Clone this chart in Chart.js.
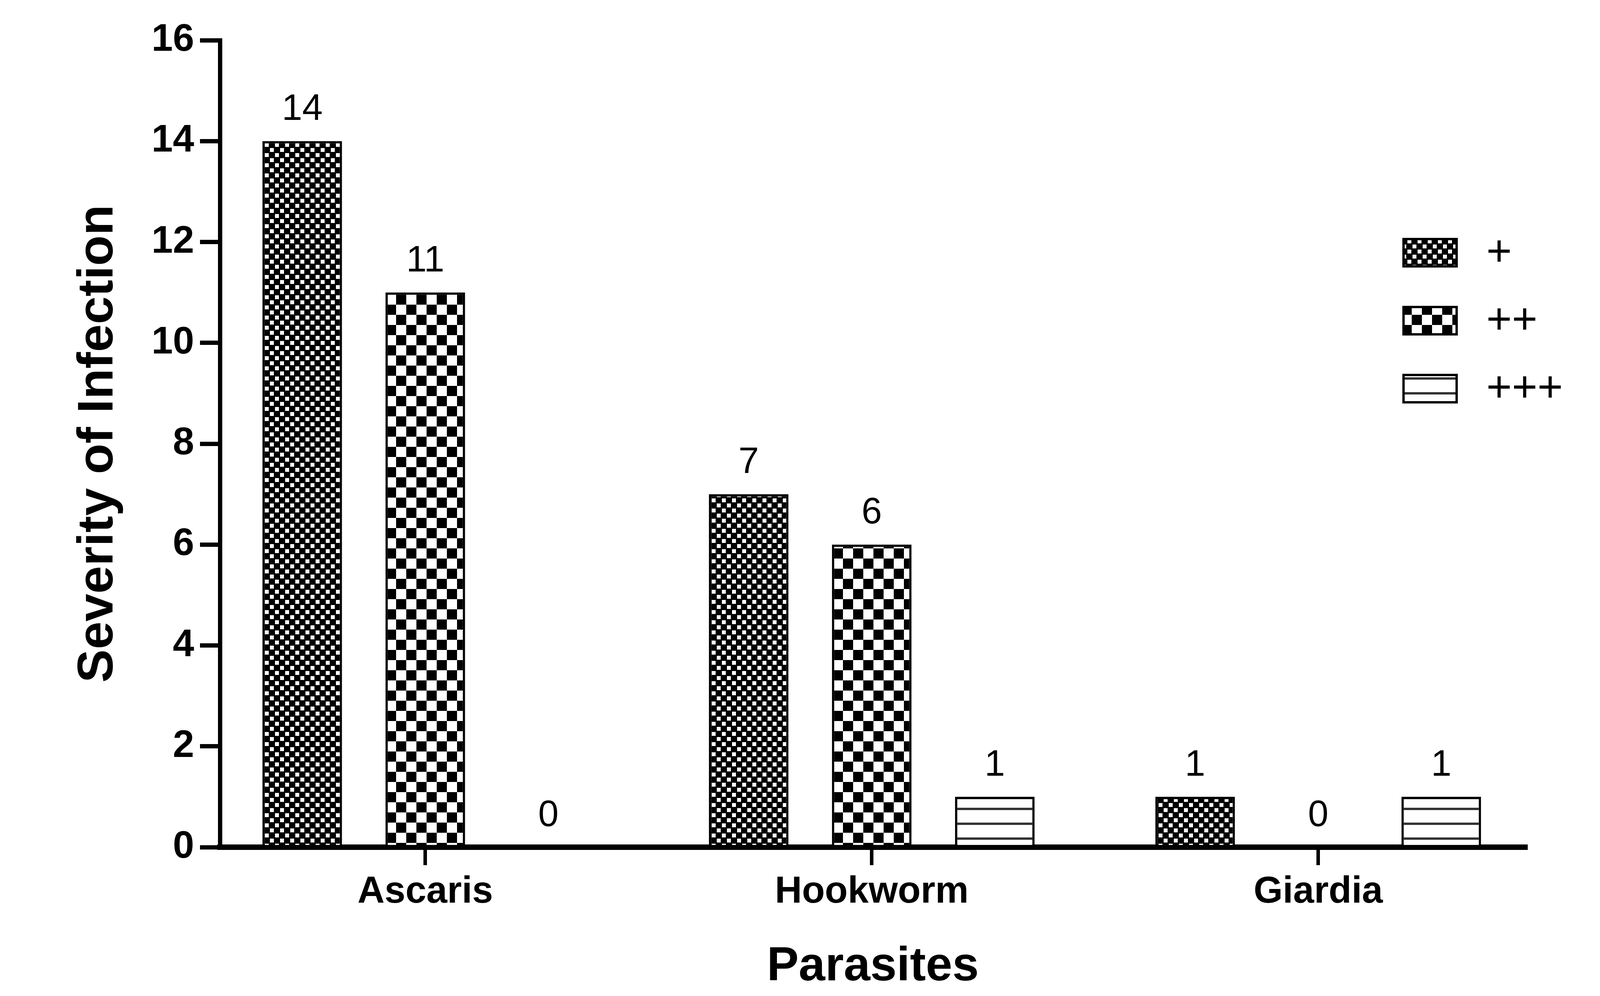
<!DOCTYPE html>
<html>
<head>
<meta charset="utf-8">
<script src="https://cdn.jsdelivr.net/npm/chart.js@4/dist/chart.umd.min.js"></script>
<style>
  html, body { margin: 0; padding: 0; background: #fff; }
  canvas { display: block; }
</style>
</head>
<body>
<canvas id="chart" width="4200" height="2550"></canvas>
<script>
// data
const parasites = ['Ascaris', 'Hookworm', 'Giardia'];
const severityLabels = ['+', '++', '+++'];
const plusOne = [14, 7, 1];
const plusTwo = [11, 6, 0];
const plusThree = [0, 1, 1];
const yTicks = [0, 2, 4, 6, 8, 10, 12, 14, 16];

const FONT = "'Liberation Sans', Arial, sans-serif";

// fill patterns like the GraphPad bars
function makePattern(w, h, paint) {
    const c = document.createElement('canvas');
    c.width = w;
    c.height = h;
    const g = c.getContext('2d');
    paint(g);
    return document.getElementById('chart').getContext('2d').createPattern(c, 'repeat');
}
const finePattern = makePattern(26, 26, function (g) {
    g.fillStyle = '#000';
    g.fillRect(0, 0, 26, 26);
    g.fillStyle = '#fff';
    g.fillRect(2, 2, 10, 10);
    g.fillRect(15, 15, 10, 10);
});
const checkPattern = makePattern(52, 52, function (g) {
    g.fillStyle = '#fff';
    g.fillRect(0, 0, 52, 52);
    g.fillStyle = '#000';
    g.fillRect(0, 0, 26, 26);
    g.fillRect(26, 26, 26, 26);
});
const stripePattern = makePattern(40, 38, function (g) {
    g.fillStyle = '#fff';
    g.fillRect(0, 0, 40, 38);
    g.fillStyle = '#333';
    g.fillRect(0, 16, 40, 6);
});

const series = [plusOne, plusTwo, plusThree];
const fills = [finePattern, checkPattern, stripePattern];

const datasets = series.map(function (vals, s) {
    return {
        label: severityLabels[s],
        data: vals.map(function (v, i) { return { x: i, y: v }; }),
        backgroundColor: fills[s],
        borderColor: '#000',
        borderWidth: 6,
        categoryPercentage: 0.827,
        barPercentage: 0.647,
    };
});

// numbers above bars
const valueLabels = {
    id: 'valueLabels',
    afterDatasetsDraw: function (chart) {
        const ctx = chart.ctx;
        ctx.save();
        ctx.font = '94px ' + FONT;
        ctx.fillStyle = '#000';
        ctx.textAlign = 'center';
        ctx.textBaseline = 'middle';
        chart.data.datasets.forEach(function (ds, d) {
            chart.getDatasetMeta(d).data.forEach(function (bar, i) {
                ctx.fillText(String(ds.data[i].y), bar.x, bar.y - 80);
            });
        });
        ctx.restore();
    }
};

// legend inside the plot, top right
const boxLegend = {
    id: 'boxLegend',
    afterDraw: function (chart) {
        const ctx = chart.ctx;
        const area = chart.chartArea;
        const x0 = area.right - 313;
        ctx.save();
        ctx.font = '112px ' + FONT;
        ctx.textBaseline = 'middle';
        ctx.textAlign = 'left';
        chart.data.datasets.forEach(function (ds, d) {
            const cy = area.top + 544 + d * 174;
            ctx.fillStyle = ds.backgroundColor;
            ctx.fillRect(x0, cy - 35, 136, 70);
            ctx.lineWidth = 6;
            ctx.strokeStyle = '#000';
            ctx.strokeRect(x0, cy - 35, 136, 70);
            ctx.fillStyle = '#000';
            ctx.fillText(ds.label, x0 + 212, cy + 2);
        });
        ctx.restore();
    }
};

new Chart(document.getElementById('chart'), {
    type: 'bar',
    data: { datasets: datasets },
    plugins: [valueLabels, boxLegend],
    options: {
        responsive: false,
        animation: false,
        devicePixelRatio: 1,
        layout: { padding: { top: 103, right: 294, left: 0, bottom: 0 } },
        plugins: {
            legend: { display: false },
            tooltip: { enabled: false },
        },
        scales: {
            x: {
                type: 'linear',
                offset: false,
                min: -0.46,
                max: 2.465,
                afterBuildTicks: function (scale) {
                    scale.ticks = parasites.map(function (p, i) { return { value: i }; });
                },
                afterFit: function (scale) { scale.height = 381; },
                grid: {
                    display: true,
                    offset: false,
                    drawOnChartArea: false,
                    drawTicks: true,
                    tickLength: 46,
                    lineWidth: 9,
                    color: '#000',
                },
                border: { display: true, color: '#000', width: 14 },
                ticks: {
                    autoSkip: false,
                    maxRotation: 0,
                    padding: 12,
                    color: '#000',
                    font: { family: FONT, size: 96, weight: 'bold' },
                    callback: function (v) { return parasites[v]; },
                },
                title: {
                    display: true,
                    text: 'Parasites',
                    color: '#000',
                    font: { family: FONT, size: 122, weight: 'bold' },
                    padding: { top: 0, bottom: 0 },
                },
            },
            y: {
                min: 0,
                max: 16,
                afterBuildTicks: function (scale) {
                    scale.ticks = yTicks.map(function (v) { return { value: v }; });
                },
                afterFit: function (scale) { scale.width = 563; },
                grid: {
                    display: true,
                    drawOnChartArea: false,
                    drawTicks: true,
                    tickLength: 51,
                    lineWidth: 11,
                    color: '#000',
                },
                border: { display: true, color: '#000', width: 11 },
                ticks: {
                    padding: 15,
                    color: '#000',
                    font: { family: FONT, size: 98, weight: 'bold' },
                },
                title: {
                    display: true,
                    text: 'Severity of Infection',
                    color: '#000',
                    font: { family: FONT, size: 128, weight: 'bold' },
                    padding: { top: 176, bottom: 0 },
                },
            },
        },
    },
});
</script>
</body>
</html>
